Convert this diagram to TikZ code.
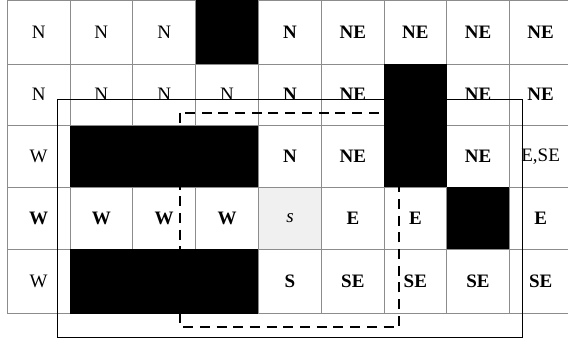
\documentclass[tikz,border=0pt]{standalone}
\usepackage{fontspec}
\setmainfont{Liberation Serif}
\begin{document}
\begin{tikzpicture}[x=1pt,y=-1pt,
  gridline/.style={draw=black!45,line width=0.8pt},
  lbl/.style={inner sep=0pt,font=\fontsize{19}{22}\selectfont},
  bl/.style={lbl,font=\fontsize{19}{22}\selectfont\bfseries},
  it/.style={lbl,font=\fontsize{19}{22}\selectfont\itshape},
  blk/.style={fill=black},
  outer/.style={draw=black,line width=1.6pt},
  inner/.style={draw=black,line width=1.7pt,dash pattern=on 10pt off 6.7pt}]
\useasboundingbox (0,0) rectangle (568,343);
\begin{scope}
\clip (0,0) rectangle (568,343);
\fill[white] (0,0) rectangle (568,343);
% start cell shading
\fill[black!6] (258.3,187.3) rectangle (321.7,249.3);
% grid
\foreach \x in {7.3,70,132.7,195.7,258.3,321.7,384,446.7,509.3,572}
  \draw[gridline] (\x,0.5) -- (\x,313.8);
\foreach \y in {0.5,64,125.5,187.3,249.3,313.8}
  \draw[gridline] (7.3,\y) -- (572,\y);
% row 1
\node[lbl] (a1) at (38.65,32.5) {N};
\node[lbl] (a2) at (101.35,32.5) {N};
\node[lbl] (a3) at (164.2,32.5) {N};
\node[bl] (a5) at (290,32.5) {N};
\node[bl] (a6) at (352.85,32.5) {NE};
\node[bl] (a7) at (415.35,32.5) {NE};
\node[bl] (a8) at (478,32.5) {NE};
\node[bl] (a9) at (540.65,32.5) {NE};
% row 2
\node[lbl] (b1) at (38.65,94.75) {N};
\node[lbl] (b2) at (101.35,94.75) {N};
\node[lbl] (b3) at (164.2,94.75) {N};
\node[lbl] (b4) at (227,94.75) {N};
\node[bl] (b5) at (290,94.75) {N};
\node[bl] (b6) at (352.85,94.75) {NE};
\node[bl] (b8) at (478,94.75) {NE};
\node[bl] (b9) at (540.65,94.75) {NE};
% row 3
\node[lbl] (c1) at (38.65,156.4) {W};
\node[bl] (c5) at (290,156.4) {N};
\node[bl] (c6) at (352.85,156.4) {NE};
\node[bl] (c8) at (478,156.4) {NE};
\node[lbl] (c9) at (540.65,156.4) {E,SE};
% row 4
\node[bl] (d1) at (38.65,218.3) {W};
\node[bl] (d2) at (101.35,218.3) {W};
\node[bl] (d3) at (164.2,218.3) {W};
\node[bl] (d4) at (227,218.3) {W};
\node[it] (d5) at (290,218.3) {s};
\node[bl] (d6) at (352.85,218.3) {E};
\node[bl] (d7) at (415.35,218.3) {E};
\node[bl] (d9) at (540.65,218.3) {E};
% row 5
\node[lbl] (e1) at (38.65,281.5) {W};
\node[bl] (e5) at (290,281.5) {S};
\node[bl] (e6) at (352.85,281.5) {SE};
\node[bl] (e7) at (415.35,281.5) {SE};
\node[bl] (e8) at (478,281.5) {SE};
\node[bl] (e9) at (540.65,281.5) {SE};
% windows
\draw[outer] (57.3,99.3) rectangle (522.5,337.5);
\draw[inner] (180,112.7) rectangle (399.3,326.7);
% obstacles
\fill[blk] (195.7,0) rectangle (258.3,64);
\fill[blk] (384,64) rectangle (446.7,187.3);
\fill[blk] (70,125.5) rectangle (258.3,187.3);
\fill[blk] (446.7,187.3) rectangle (509.3,249.3);
\fill[blk] (70,249.3) rectangle (258.3,313.8);
\end{scope}
\end{tikzpicture}
\end{document}
